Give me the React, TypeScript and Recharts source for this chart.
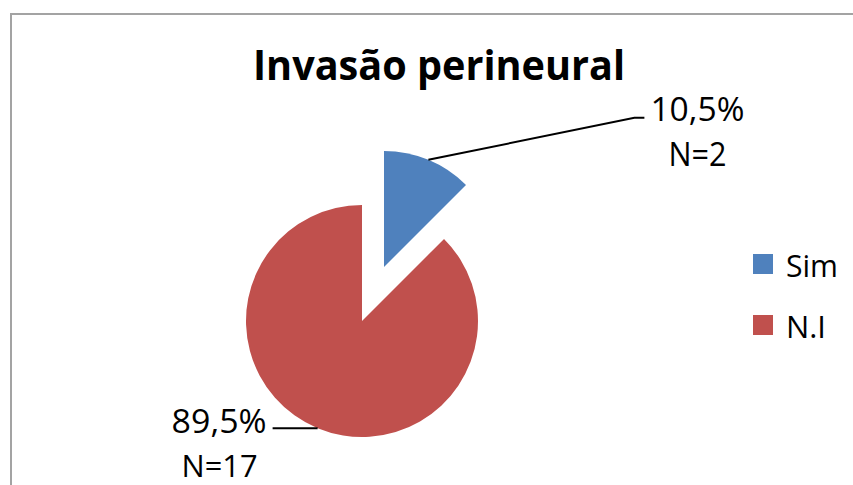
import { Cell, Legend, Pie, PieChart } from "recharts";

const categories = ["Sim", "N.I"];
// shares as drawn: the blue wedge spans 45 degrees in the picture
const sliceShares = [12.5, 87.5];
const percentLabels = ["10,5%", "89,5%"];
const countLabels = ["N=2", "N=17"];
const colors = ["#4F81BD", "#C0504D"];
const title = "Invasão perineural";

const data = categories.map((name, i) => ({ name, value: sliceShares[i] }));

const RADIAN = Math.PI / 180;
const FONT = "'Open Sans', 'Liberation Sans', sans-serif";

function edgePoint(props: any) {
  const { cx, cy, midAngle, outerRadius } = props;
  return {
    x: cx + outerRadius * Math.cos(-midAngle * RADIAN),
    y: cy + outerRadius * Math.sin(-midAngle * RADIAN),
  };
}

function simLabel(props: any) {
  if (props.index !== 0) return null;
  const p = edgePoint(props);
  return (
    <g>
      <polyline
        points={`${p.x},${p.y} ${p.x + 206},${p.y - 42} ${p.x + 216},${p.y - 42}`}
        fill="none"
        stroke="#000"
        strokeWidth={2}
      />
      <text x={p.x + 222} y={p.y - 39} fontFamily={FONT} fontSize={32} fill="#000" textLength={94} lengthAdjust="spacingAndGlyphs">
        {percentLabels[0]}
      </text>
      <text x={p.x + 269} y={p.y + 6} textAnchor="middle" fontFamily={FONT} fontSize={32} fill="#000" textLength={58} lengthAdjust="spacingAndGlyphs">
        {countLabels[0]}
      </text>
    </g>
  );
}

function naLabel(props: any) {
  if (props.index !== 1) return null;
  const p = edgePoint(props);
  return (
    <g>
      <line x1={p.x} y1={p.y} x2={p.x - 45} y2={p.y} stroke="#000" strokeWidth={2} />
      <text x={p.x - 51} y={p.y + 5} textAnchor="end" fontFamily={FONT} fontSize={32} fill="#000" textLength={95} lengthAdjust="spacingAndGlyphs">
        {percentLabels[1]}
      </text>
      <text x={p.x - 98} y={p.y + 49} textAnchor="middle" fontFamily={FONT} fontSize={31} fill="#000" textLength={76} lengthAdjust="spacingAndGlyphs">
        {countLabels[1]}
      </text>
    </g>
  );
}

const renderLegend = () => (
  <svg width={100} height={90} style={{ display: "block", overflow: "visible" }}>
    {categories.map((c, i) => (
      <g key={c}>
        <rect x={0} y={i * 61} width={20} height={20} fill={colors[i]} />
        <text
          x={33}
          y={i * 61 + 23}
          fontFamily={FONT}
          fontSize={31}
          fill="#000"
          textLength={i === 0 ? 52 : 40}
          lengthAdjust="spacingAndGlyphs"
        >
          {c}
        </text>
      </g>
    ))}
  </svg>
);

export default function App() {
  return (
    <div style={{ position: "fixed", left: 0, top: 0, width: 853, height: 485, overflow: "hidden", background: "#fff" }}>
      <div
        style={{
          position: "absolute",
          left: 10,
          top: 13,
          width: 1000,
          height: 1000,
          border: "2px solid #a3a3a3",
        }}
      />
      <div style={{ position: "absolute", left: 0, top: 0 }}>
        <PieChart width={853} height={485} margin={{ top: 0, right: 0, bottom: 0, left: 0 }}>
          <text x={253} y={80} fontFamily={FONT} fontWeight="bold" fontSize={42} fill="#000" textLength={372} lengthAdjust="spacingAndGlyphs">
            {title}
          </text>
          <Pie
            data={data}
            dataKey="value"
            nameKey="name"
            cx={362}
            cy={321}
            outerRadius={116}
            startAngle={90}
            endAngle={-270}
            stroke="none"
            label={naLabel}
            labelLine={false}
            isAnimationActive={false}
          >
            {data.map((d, i) => (
              <Cell key={d.name} fill={colors[i]} fillOpacity={i === 1 ? 1 : 0} />
            ))}
          </Pie>
          <Pie
            data={data}
            dataKey="value"
            nameKey="name"
            cx={384}
            cy={267}
            outerRadius={116}
            startAngle={90}
            endAngle={-270}
            stroke="none"
            label={simLabel}
            labelLine={false}
            isAnimationActive={false}
          >
            {data.map((d, i) => (
              <Cell key={d.name} fill={colors[i]} fillOpacity={i === 0 ? 1 : 0} />
            ))}
          </Pie>
          <Legend
            content={renderLegend}
            wrapperStyle={{ position: "absolute", left: 753, top: 254, width: 100, height: 90, overflow: "visible" }}
          />
        </PieChart>
      </div>
    </div>
  );
}
